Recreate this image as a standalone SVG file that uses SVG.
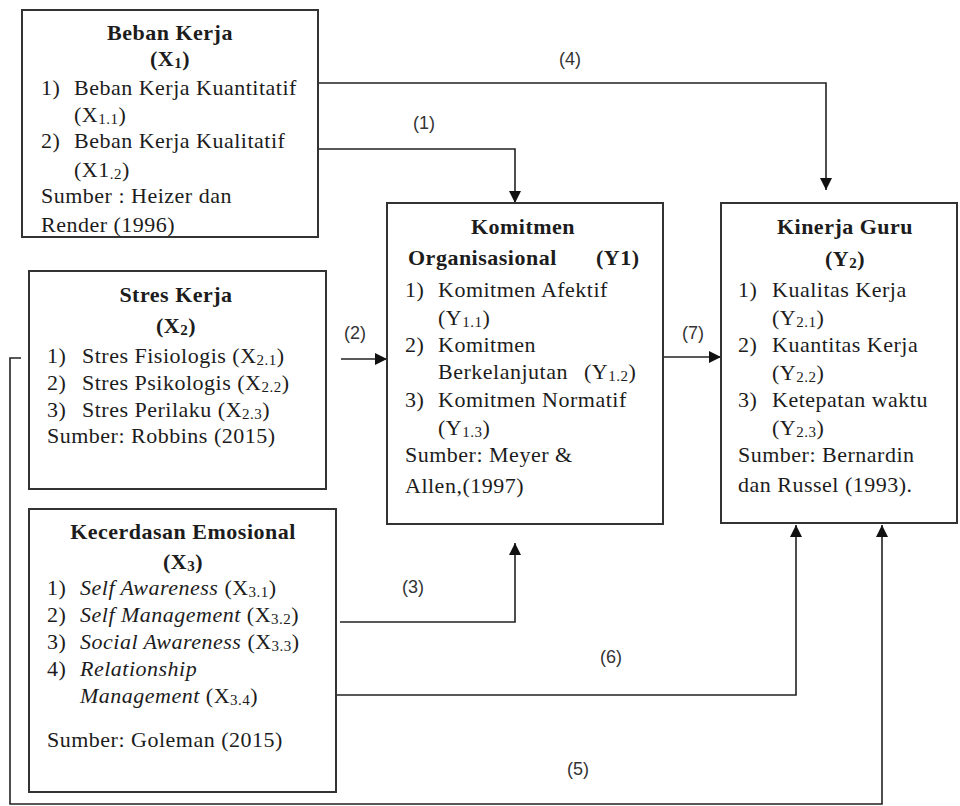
<svg xmlns="http://www.w3.org/2000/svg" width="960" height="806" viewBox="0 0 960 806">
<defs>
<style>
.box{fill:#fff;stroke:#333;stroke-width:2}
text{font-family:"Liberation Serif","Times New Roman",serif;font-size:22px;fill:#1c1c1c;letter-spacing:0.5px}
.tb{font-weight:bold;text-anchor:middle}
.b{font-weight:bold}
.i{font-style:italic}
.sb{font-size:15px}
.con{fill:none;stroke:#222;stroke-width:1.6}
.lbl{font-family:"Liberation Sans",Arial,sans-serif;font-size:18px;fill:#333;text-anchor:middle;letter-spacing:0}
</style>
<marker id="arr" viewBox="0 0 10 10" refX="10" refY="5" markerWidth="12" markerHeight="12" markerUnits="userSpaceOnUse" orient="auto">
<path d="M0,0 L10,5 L0,10 z" fill="#111"/>
</marker>
</defs>
<rect width="960" height="806" fill="#fff"/>

<g id="connectors">
<path class="con" d="M318,149 H515 V203" marker-end="url(#arr)"/>
<path class="con" d="M318,83 H826 V190" marker-end="url(#arr)"/>
<path class="con" d="M341,359 H387" marker-end="url(#arr)"/>
<path class="con" d="M663,357 H721" marker-end="url(#arr)"/>
<path class="con" d="M340,622 H515 V543" marker-end="url(#arr)"/>
<path class="con" d="M337,695 H796 V525" marker-end="url(#arr)"/>
<path class="con" d="M21,358 H10 V804 H882 V525" marker-end="url(#arr)"/>
<text class="lbl" x="424" y="129">(1)</text>
<text class="lbl" x="570" y="65">(4)</text>
<text class="lbl" x="355" y="339">(2)</text>
<text class="lbl" x="693" y="339">(7)</text>
<text class="lbl" x="413" y="593">(3)</text>
<text class="lbl" x="611" y="663">(6)</text>
<text class="lbl" x="578" y="775">(5)</text>
</g>

<g id="X1">
<rect class="box" x="22" y="10" width="296" height="227"/>
<text class="tb" x="170" y="40">Beban Kerja</text>
<text class="tb" x="170" y="66">(X<tspan class="sb" dy="2">1</tspan><tspan dy="-2">)</tspan></text>
<text x="41" y="95">1)</text><text x="74" y="95">Beban Kerja Kuantitatif</text>
<text x="74" y="122">(X<tspan class="sb" dy="2">1.1</tspan><tspan dy="-2">)</tspan></text>
<text x="41" y="148">2)</text><text x="74" y="148">Beban Kerja Kualitatif</text>
<text x="74" y="177">(X1<tspan class="sb" dy="2">.2</tspan><tspan dy="-2">)</tspan></text>
<text x="41" y="203">Sumber : Heizer dan</text>
<text x="41" y="232">Render (1996)</text>
</g>

<g id="X2">
<rect class="box" x="29" y="271" width="297" height="218"/>
<text class="tb" x="176" y="302">Stres Kerja</text>
<text class="tb" x="176" y="333">(X<tspan class="sb" dy="2">2</tspan><tspan dy="-2">)</tspan></text>
<text x="47" y="363">1)</text><text x="82" y="363">Stres Fisiologis (X<tspan class="sb" dy="2">2.1</tspan><tspan dy="-2">)</tspan></text>
<text x="47" y="390">2)</text><text x="82" y="390">Stres Psikologis (X<tspan class="sb" dy="2">2.2</tspan><tspan dy="-2">)</tspan></text>
<text x="47" y="417">3)</text><text x="82" y="417">Stres Perilaku (X<tspan class="sb" dy="2">2.3</tspan><tspan dy="-2">)</tspan></text>
<text x="47" y="443">Sumber: Robbins (2015)</text>
</g>

<g id="X3">
<rect class="box" x="29" y="509" width="307" height="283"/>
<text class="tb" x="183" y="539">Kecerdasan Emosional</text>
<text class="tb" x="183" y="569">(X<tspan class="sb" dy="2">3</tspan><tspan dy="-2">)</tspan></text>
<text x="47" y="595">1)</text><text x="80" y="595"><tspan class="i">Self Awareness</tspan> (X<tspan class="sb" dy="2">3.1</tspan><tspan dy="-2">)</tspan></text>
<text x="47" y="622">2)</text><text x="80" y="622"><tspan class="i">Self Management</tspan> (X<tspan class="sb" dy="2">3.2</tspan><tspan dy="-2">)</tspan></text>
<text x="47" y="649">3)</text><text x="80" y="649"><tspan class="i">Social Awareness</tspan> (X<tspan class="sb" dy="2">3.3</tspan><tspan dy="-2">)</tspan></text>
<text x="47" y="676">4)</text><text x="80" y="676" class="i">Relationship</text>
<text x="80" y="703"><tspan class="i">Management</tspan> (X<tspan class="sb" dy="2">3.4</tspan><tspan dy="-2">)</tspan></text>
<text x="47" y="747">Sumber: Goleman (2015)</text>
</g>

<g id="Y1">
<rect class="box" x="387" y="203" width="276" height="321"/>
<text class="tb" x="523" y="234">Komitmen</text>
<text class="b" x="408" y="265">Organisasional</text><text class="b" x="596" y="265">(Y1)</text>
<text x="405" y="297">1)</text><text x="438" y="297">Komitmen Afektif</text>
<text x="438" y="325">(Y<tspan class="sb" dy="2">1.1</tspan><tspan dy="-2">)</tspan></text>
<text x="405" y="352">2)</text><text x="438" y="352">Komitmen</text>
<text x="438" y="379">Berkelanjutan</text><text x="584" y="379">(Y<tspan class="sb" dy="2">1.2</tspan><tspan dy="-2">)</tspan></text>
<text x="405" y="407">3)</text><text x="438" y="407">Komitmen Normatif</text>
<text x="438" y="435">(Y<tspan class="sb" dy="2">1.3</tspan><tspan dy="-2">)</tspan></text>
<text x="405" y="462">Sumber: Meyer &amp;</text>
<text x="405" y="493">Allen,(1997)</text>
</g>

<g id="Y2">
<rect class="box" x="721" y="203" width="236" height="320"/>
<text class="tb" x="845" y="234">Kinerja Guru</text>
<text class="tb" x="845" y="266">(Y<tspan class="sb" dy="2">2</tspan><tspan dy="-2">)</tspan></text>
<text x="738" y="297">1)</text><text x="772" y="297">Kualitas Kerja</text>
<text x="772" y="325">(Y<tspan class="sb" dy="2">2.1</tspan><tspan dy="-2">)</tspan></text>
<text x="738" y="352">2)</text><text x="772" y="352">Kuantitas Kerja</text>
<text x="772" y="380">(Y<tspan class="sb" dy="2">2.2</tspan><tspan dy="-2">)</tspan></text>
<text x="738" y="407">3)</text><text x="772" y="407">Ketepatan waktu</text>
<text x="772" y="435">(Y<tspan class="sb" dy="2">2.3</tspan><tspan dy="-2">)</tspan></text>
<text x="738" y="462">Sumber: Bernardin</text>
<text x="738" y="492">dan Russel (1993).</text>
</g>
</svg>
